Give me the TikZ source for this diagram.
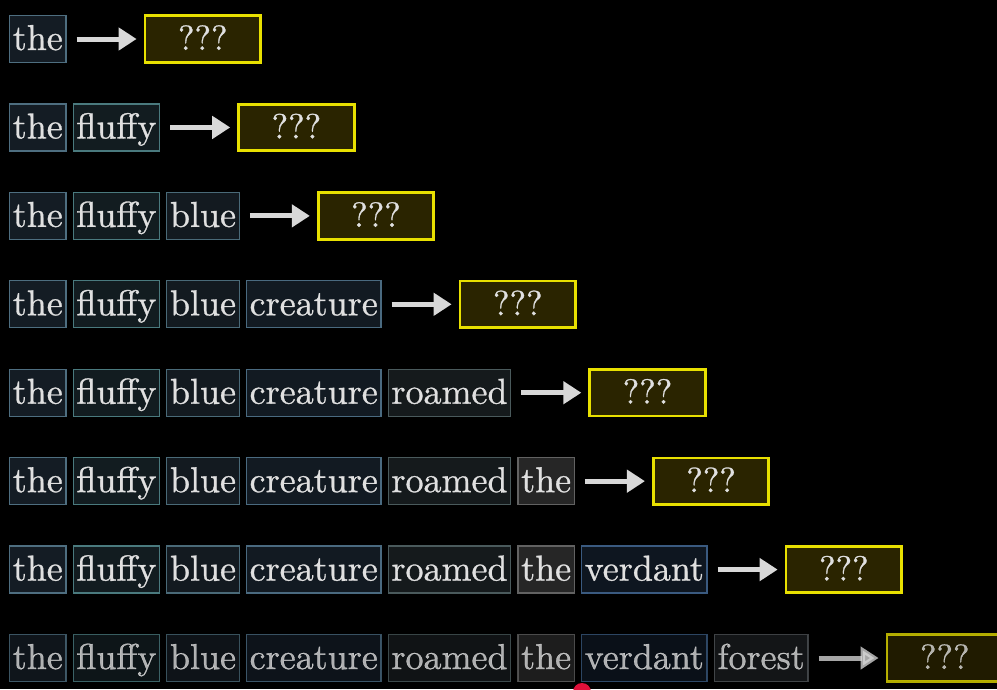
\documentclass[tikz,border=0pt]{standalone}
\usepackage{fontspec}
\usetikzlibrary{positioning,arrows.meta}
\newfontfamily\wordfont{lmroman10-regular}[Extension=.otf,FakeBold=0.8]
\definecolor{txt}{HTML}{E0E0E0}
\definecolor{arrowgrey}{HTML}{D8D8D8}
\definecolor{qmark}{HTML}{E8E000}
\definecolor{qfill}{HTML}{2A2400}
\definecolor{cursor}{HTML}{E0103A}
% border / fill of each word box
\definecolor{bd1}{HTML}{4E6E80}\definecolor{fi1}{HTML}{141C24}
\definecolor{bd2}{HTML}{4A7A7E}\definecolor{fi2}{HTML}{121C20}
\definecolor{bd3}{HTML}{4A6A78}\definecolor{fi3}{HTML}{131A20}
\definecolor{bd4}{HTML}{4A6A80}\definecolor{fi4}{HTML}{121A22}
\definecolor{bd5}{HTML}{4A5A5C}\definecolor{fi5}{HTML}{151A1C}
\definecolor{bd6}{HTML}{626262}\definecolor{fi6}{HTML}{262626}
\definecolor{bd7}{HTML}{3A5A80}\definecolor{fi7}{HTML}{0E1620}
\definecolor{bd8}{HTML}{505458}\definecolor{fi8}{HTML}{1A1C1E}
\tikzset{
  word/.style={draw, line width=1.2pt, text=txt, font=\wordfont\fontsize{36}{42}\selectfont,
    inner xsep=3.2pt, inner ysep=0pt, minimum height=47pt, text height=26pt, text depth=4pt},
  guess/.style={draw=qmark, fill=qfill, line width=2.8pt, text=txt, font=\wordfont\fontsize{35}{42}\selectfont,
    inner sep=0pt, minimum width=115.5pt, minimum height=46.5pt, text height=26pt, text depth=4pt},
  next/.style={line width=5pt, arrowgrey, -{Triangle[length=18pt,width=22pt]}}
}
\begin{document}
\begin{tikzpicture}[x=1pt,y=-1pt]
\fill[black] (0,0) rectangle (997,689);
\useasboundingbox (0,0) rectangle (997,689);
\foreach \r in {1,...,8} {
  \pgfmathsetmacro\op{\r==8 ? 0.77 : 1}
  \pgfmathsetmacro\ypos{39+(\r-1)*88.43}
  \foreach \w [count=\i] in {the,fluffy,blue,creature,roamed,the,verdant,forest} {
    \pgfmathtruncatemacro\p{\i-1}
    \ifnum\i>\r\else
      \ifnum\i=1
        \node[word, draw=bd\i, fill=fi\i, opacity=\op, anchor=west] (w\r-\i) at (9,\ypos) {\w};
      \else
        \node[word, draw=bd\i, fill=fi\i, opacity=\op, right=6pt of w\r-\p] (w\r-\i) {\w};
      \fi
    \fi
  }
  \node[guess, opacity=\op, right=77pt of w\r-\r] (q\r) {???};
  \draw[next, opacity=\op] ([xshift=10pt]w\r-\r.east) -- ([xshift=-7pt]q\r.west);
}
\fill[cursor] (582,692) circle (9);
\end{tikzpicture}
\end{document}
